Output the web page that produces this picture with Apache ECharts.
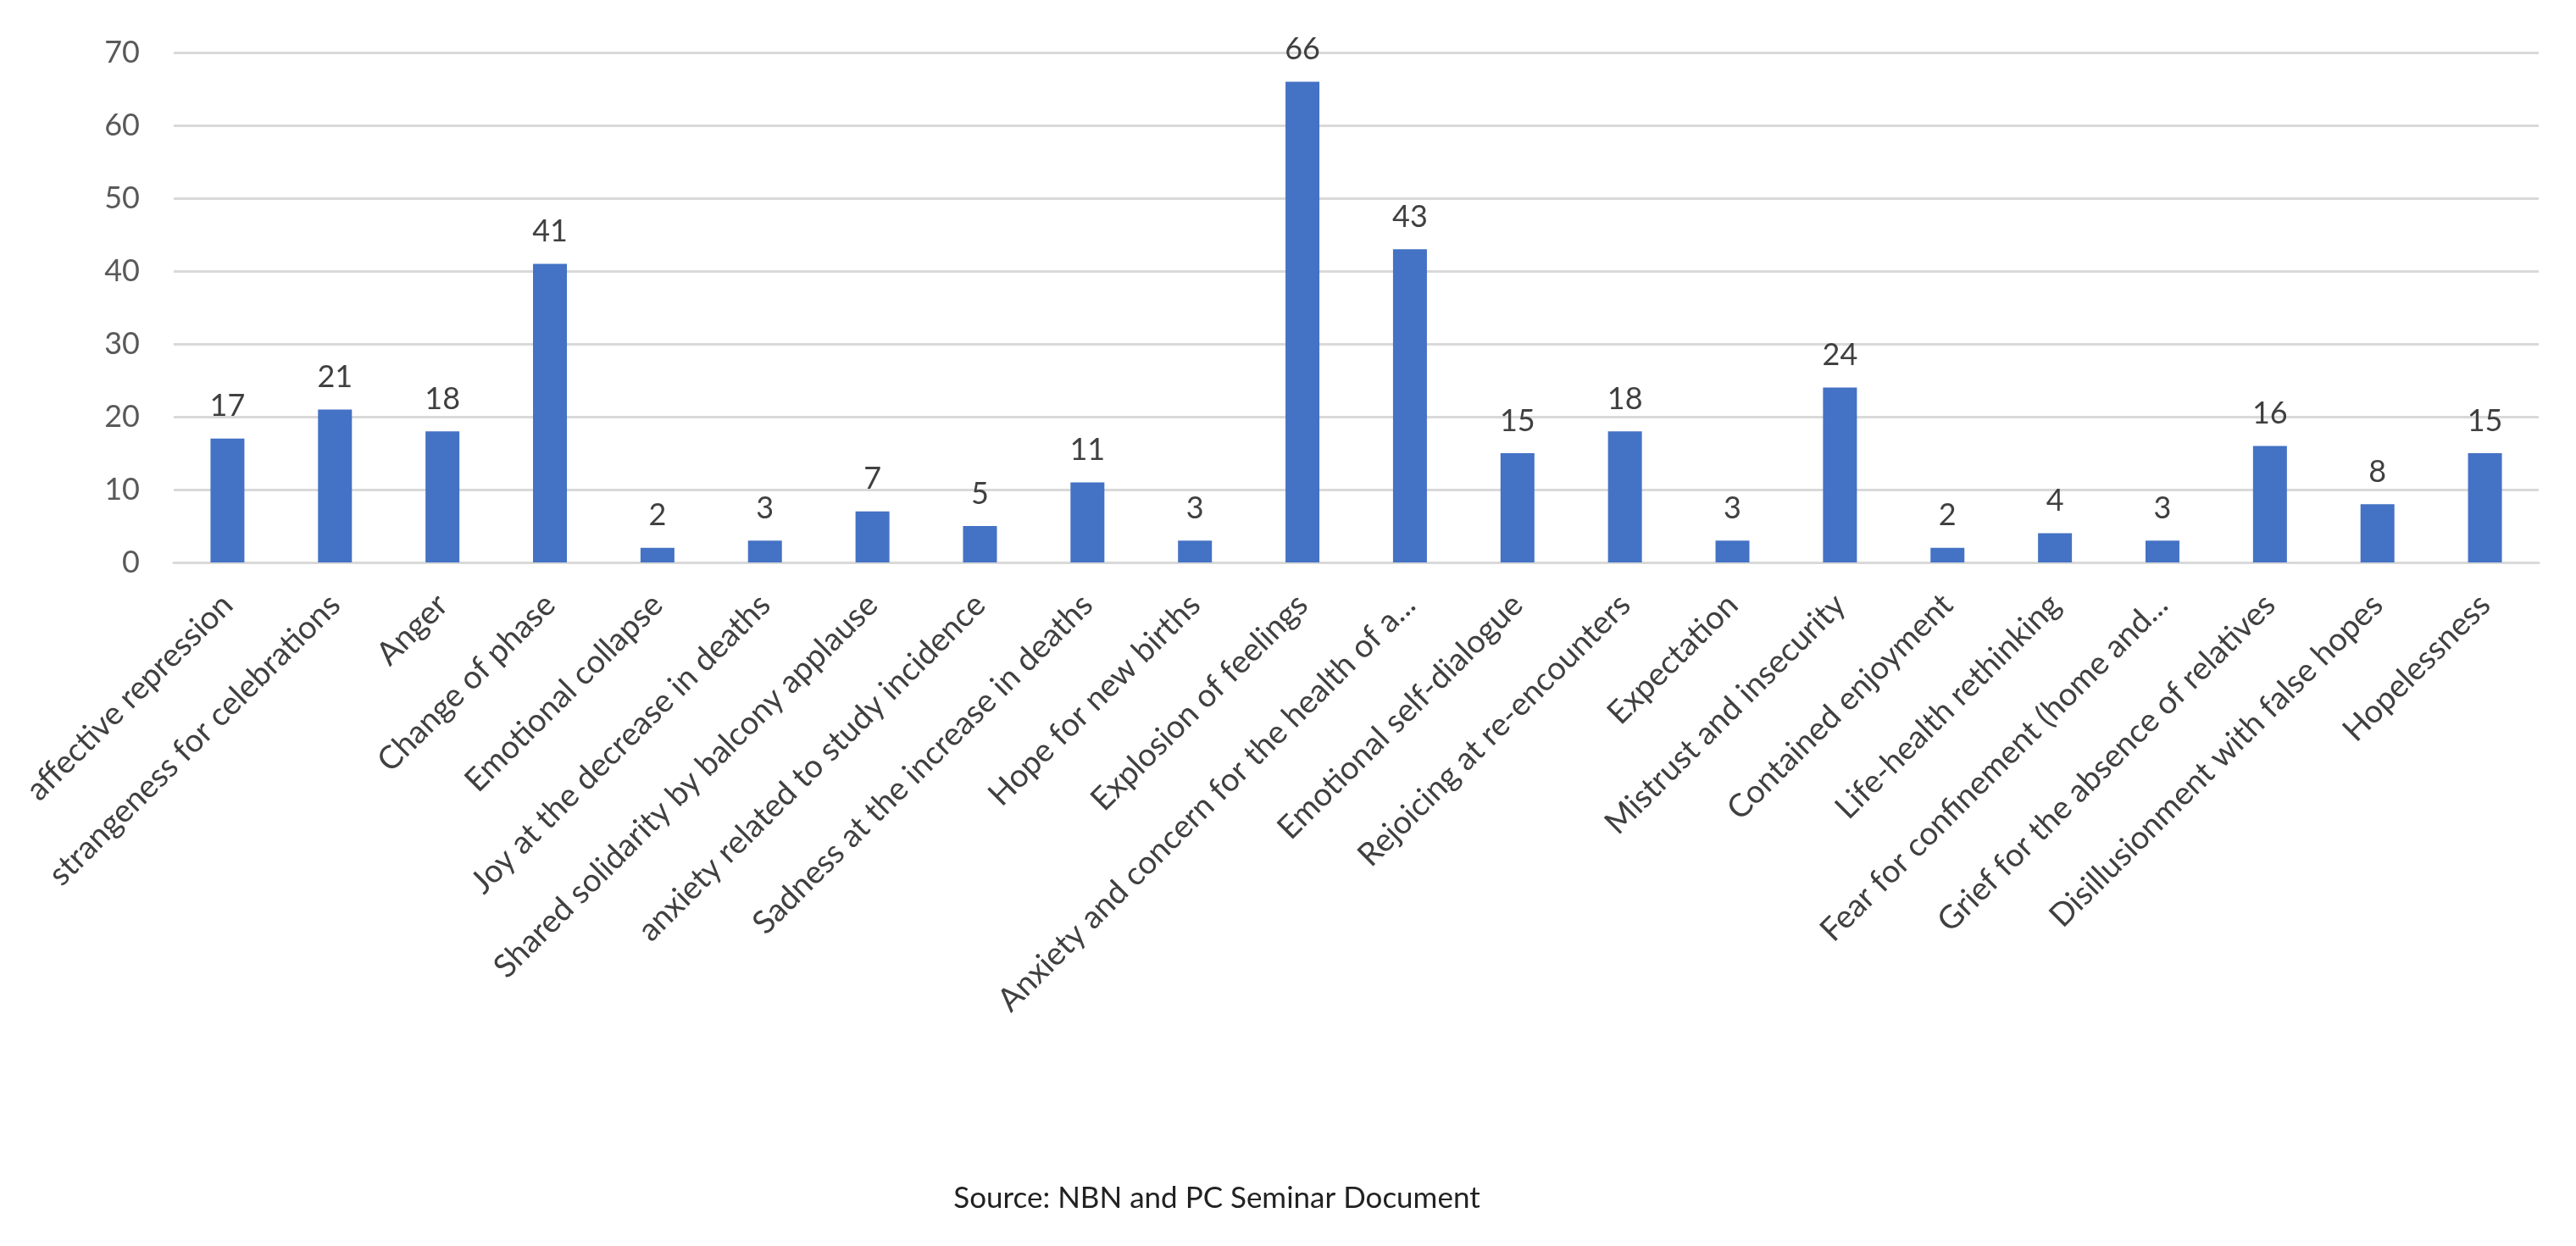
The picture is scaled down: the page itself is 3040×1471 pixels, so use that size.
<!DOCTYPE html>
<html>
<head>
<meta charset="utf-8">
<script src="https://cdn.jsdelivr.net/npm/echarts@6/dist/echarts.min.js"></script>
<style>
  html, body { margin: 0; padding: 0; background: #fff; }
  #chart { width: 3040px; height: 1471px; }
</style>
</head>
<body>
<div id="chart"></div>
<script>
const categories = [
  "affective repression",
  "strangeness for celebrations",
  "Anger",
  "Change of phase",
  "Emotional collapse",
  "Joy at the decrease in deaths",
  "Shared solidarity by balcony applause",
  "anxiety related to study incidence",
  "Sadness at the increase in deaths",
  "Hope for new births",
  "Explosion of feelings",
  "Anxiety and concern for the health of a...",
  "Emotional self-dialogue",
  "Rejoicing at re-encounters",
  "Expectation",
  "Mistrust and insecurity",
  "Contained enjoyment",
  "Life-health rethinking",
  "Fear for confinement (home and...",
  "Grief for the absence of relatives",
  "Disillusionment with false hopes",
  "Hopelessness"
];
const values = [17, 21, 18, 41, 2, 3, 7, 5, 11, 3, 66, 43, 15, 18, 3, 24, 2, 4, 3, 16, 8, 15];
const yTicks = { min: 0, max: 70, step: 10 };
const sourceText = "Source: NBN and PC Seminar Document";

const FONT = "Lato, 'Open Sans', sans-serif";
const chart = echarts.init(document.getElementById('chart'));
chart.setOption({
  animation: false,
  backgroundColor: '#ffffff',
  graphic: [{
    type: 'text',
    x: 1436,
    y: 1415,
    style: {
      text: sourceText,
      fontFamily: FONT,
      fontSize: 35,
      fill: '#222222',
      textAlign: 'center',
      textVerticalAlign: 'middle'
    }
  }],
  grid: { left: 205, right: 44, top: 62, bottom: 807, containLabel: false },
  xAxis: {
    type: 'category',
    data: categories,
    axisLine: { show: true, lineStyle: { color: '#d9d9d9', width: 3 } },
    axisTick: { show: false },
    axisLabel: {
      interval: 0,
      rotate: 45,
      margin: 44,
      fontFamily: FONT,
      fontSize: 38,
      color: '#404040'
    }
  },
  yAxis: {
    type: 'value',
    min: yTicks.min,
    max: yTicks.max,
    interval: yTicks.step,
    axisLine: { show: false },
    axisTick: { show: false },
    axisLabel: { fontFamily: FONT, fontSize: 36, color: '#595959', margin: 40 },
    splitLine: { lineStyle: { color: '#d9d9d9', width: 3 } }
  },
  series: [{
    type: 'bar',
    data: values,
    barWidth: 40,
    itemStyle: { color: '#4472c4' },
    label: {
      show: true,
      position: 'top',
      distance: 20,
      fontFamily: FONT,
      fontSize: 36,
      color: '#404040'
    }
  }]
});
</script>
</body>
</html>
